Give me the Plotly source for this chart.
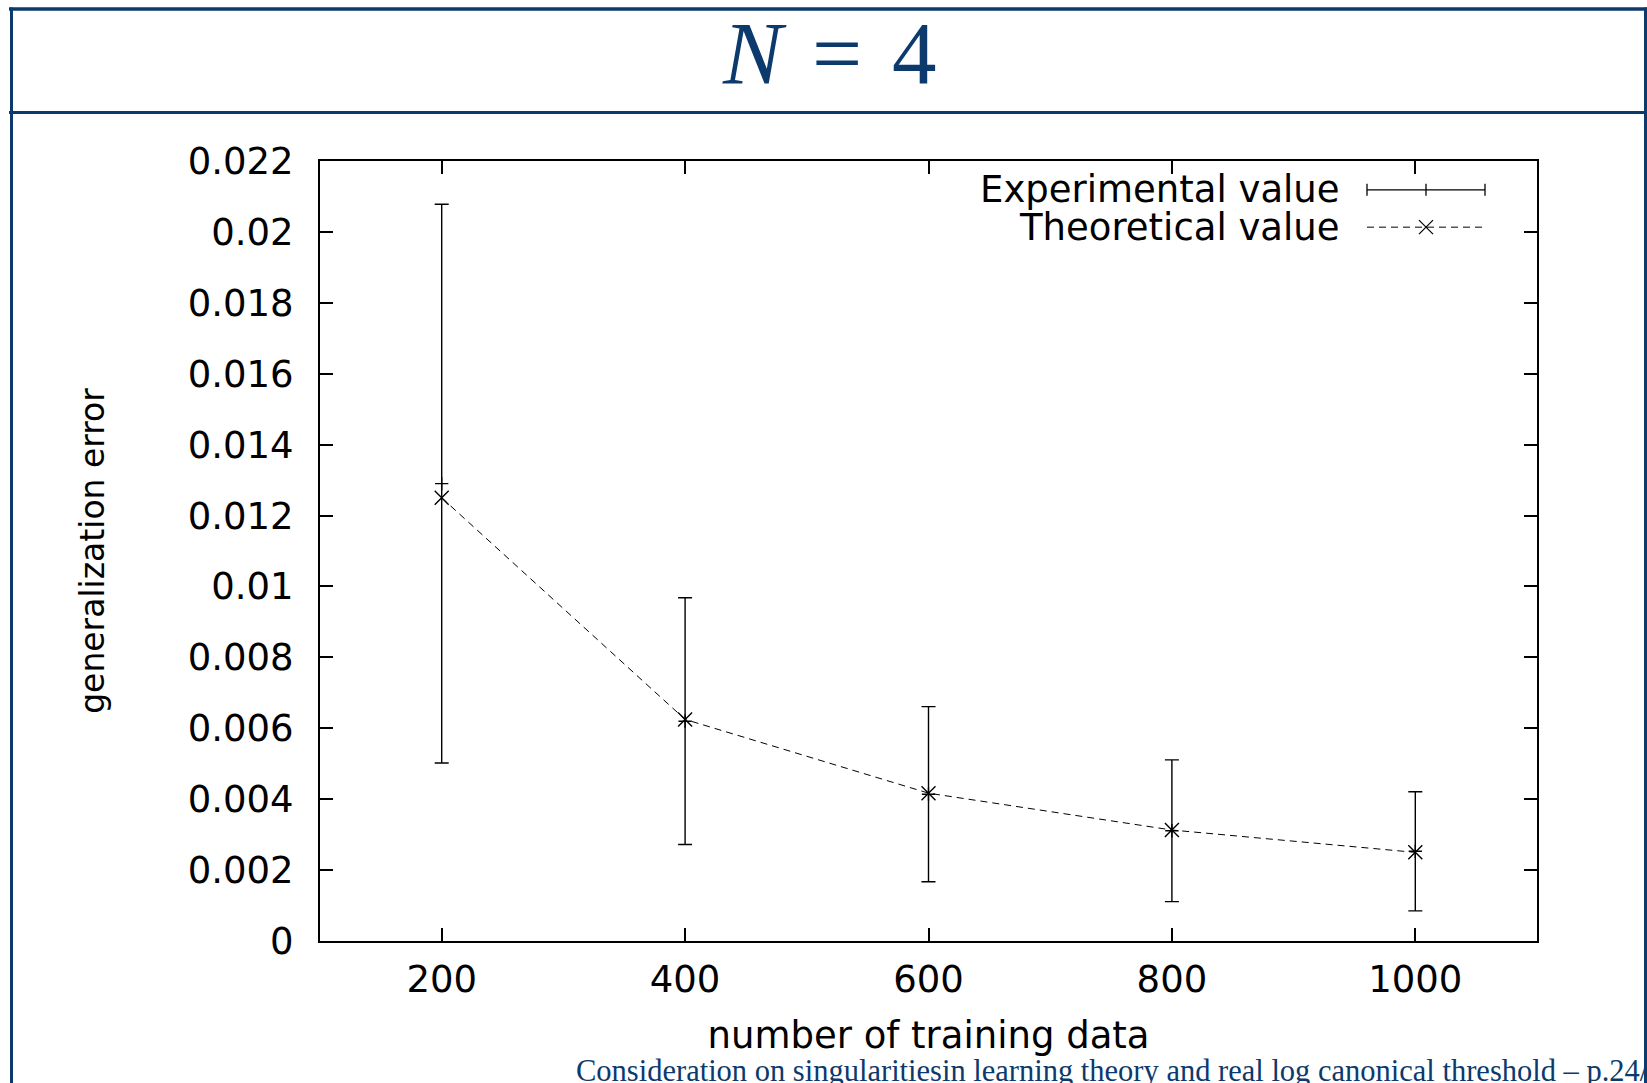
import plotly.graph_objects as go

# ---------------- data ----------------
n_train = [200, 400, 600, 800, 1000]
exp_value = [0.0129, 0.0062, 0.00414, 0.00311, 0.00253]
exp_err = [0.00788, 0.00348, 0.00247, 0.00200, 0.00168]
theo_value = [0.0125, 0.00625, 0.00417, 0.00313, 0.0025]

x_tickvals = [200, 400, 600, 800, 1000]
y_tickvals = [0, 0.002, 0.004, 0.006, 0.008, 0.01, 0.012, 0.014, 0.016, 0.018, 0.02, 0.022]
y_ticktext = ["0", "0.002", "0.004", "0.006", "0.008", "0.01", "0.012",
              "0.014", "0.016", "0.018", "0.02", "0.022"]

title_text = "<i>N</i>\u2004=\u20044"
legend_labels = ["Experimental value", "Theoretical value"]
footer_text = "Consideration on singularitiesin learning theory and real log canonical threshold \u2013 p.24/"

# ---------------- layout geometry ----------------
W, H = 1647, 1083
L, R, T, B = 320, 1537, 160.5, 941
NAVY = "#0c3a6c"
SANS = "DejaVu Sans"


def px(x):
    return (x - L) / (R - L)


def py(y):
    return (B - y) / (B - T)


fig = go.Figure()

fig.add_trace(go.Scatter(
    x=n_train, y=exp_value, mode="markers", name=legend_labels[0],
    marker=dict(symbol="cross-thin", size=9.5, color="black",
                line=dict(color="black", width=1.4)),
    error_y=dict(type="data", array=exp_err, visible=True,
                 color="black", thickness=1.4, width=7),
    showlegend=False,
))

fig.add_trace(go.Scatter(
    x=n_train, y=theo_value, mode="lines+markers", name=legend_labels[1],
    line=dict(color="black", width=1, dash="7px,5px"),
    marker=dict(symbol="x-thin", size=14, color="black",
                line=dict(color="black", width=1.4)),
    showlegend=False,
))

shapes = []


def hline(y, x0, x1, color, width, dash=None):
    d = dict(type="line", xref="paper", yref="paper",
             x0=px(x0), x1=px(x1), y0=py(y), y1=py(y),
             line=dict(color=color, width=width))
    if dash:
        d["line"]["dash"] = dash
    shapes.append(d)


def vline(x, y0, y1, color, width):
    shapes.append(dict(type="line", xref="paper", yref="paper",
                       x0=px(x), x1=px(x), y0=py(y0), y1=py(y1),
                       line=dict(color=color, width=width)))


# slide frame
hline(8.5, 9, 1647, NAVY, 3.5)
hline(112, 9, 1647, NAVY, 3)
vline(11.5, 7, 1083, NAVY, 3)
vline(1645.5, 7, 1083, NAVY, 3)

# custom legend samples (key on the right like gnuplot)
ly1, ly2 = 189.3, 226.7
lx0, lx1, lxm = 1367, 1485, 1426
hline(ly1, lx0, lx1, "black", 1.3)
vline(lx0, ly1 - 6, ly1 + 6, "black", 1.3)
vline(lx1, ly1 - 6, ly1 + 6, "black", 1.3)
vline(lxm, ly1 - 6, ly1 + 6, "black", 1.3)
hline(ly2, lx0, lx1, "black", 1, dash="7px,5px")
shapes.append(dict(type="line", xref="paper", yref="paper",
                   x0=px(lxm - 7), x1=px(lxm + 7), y0=py(ly2 - 7), y1=py(ly2 + 7),
                   line=dict(color="black", width=1.3)))
shapes.append(dict(type="line", xref="paper", yref="paper",
                   x0=px(lxm - 7), x1=px(lxm + 7), y0=py(ly2 + 7), y1=py(ly2 - 7),
                   line=dict(color="black", width=1.3)))

annotations = [
    dict(text=title_text, xref="paper", yref="paper", x=px(829), y=py(52),
         xanchor="center", yanchor="middle", showarrow=False,
         font=dict(family="Liberation Serif", size=89, color=NAVY)),
    dict(text=legend_labels[0], xref="paper", yref="paper", x=px(1342), y=py(ly1),
         xanchor="right", yanchor="middle", showarrow=False,
         font=dict(family=SANS, size=37, color="black")),
    dict(text=legend_labels[1], xref="paper", yref="paper", x=px(1342), y=py(ly2),
         xanchor="right", yanchor="middle", showarrow=False,
         font=dict(family=SANS, size=37, color="black")),
    dict(text=footer_text, xref="paper", yref="paper", x=px(574), y=py(1071),
         xanchor="left", yanchor="middle", showarrow=False,
         font=dict(family="Liberation Serif", size=30.5, color=NAVY)),
]

axis_common = dict(
    showgrid=False, zeroline=False, showline=True, linecolor="black",
    linewidth=2, mirror="ticks", ticks="inside", ticklen=13, tickwidth=1.5,
    tickcolor="black", tickfont=dict(family=SANS, size=37, color="black"),
)

fig.update_layout(
    width=W, height=H,
    margin=dict(l=L, r=W - R, t=T, b=H - B, pad=0),
    paper_bgcolor="white", plot_bgcolor="white",
    shapes=shapes, annotations=annotations,
    xaxis=dict(range=[100, 1100], tickmode="array", tickvals=x_tickvals,
               ticklabelstandoff=5,
               title=dict(text="number of training data",
                          font=dict(family=SANS, size=37, color="black"),
                          standoff=22),
               **axis_common),
    yaxis=dict(range=[0, 0.022], tickmode="array", tickvals=y_tickvals,
               ticktext=y_ticktext, ticklabelstandoff=17,
               title=dict(text="generalization error",
                          font=dict(family=SANS, size=33, color="black"),
                          standoff=73),
               **axis_common),
)

fig.write_html("out.html", config={"displayModeBar": False},
               post_script="document.body.style.margin='0';")
